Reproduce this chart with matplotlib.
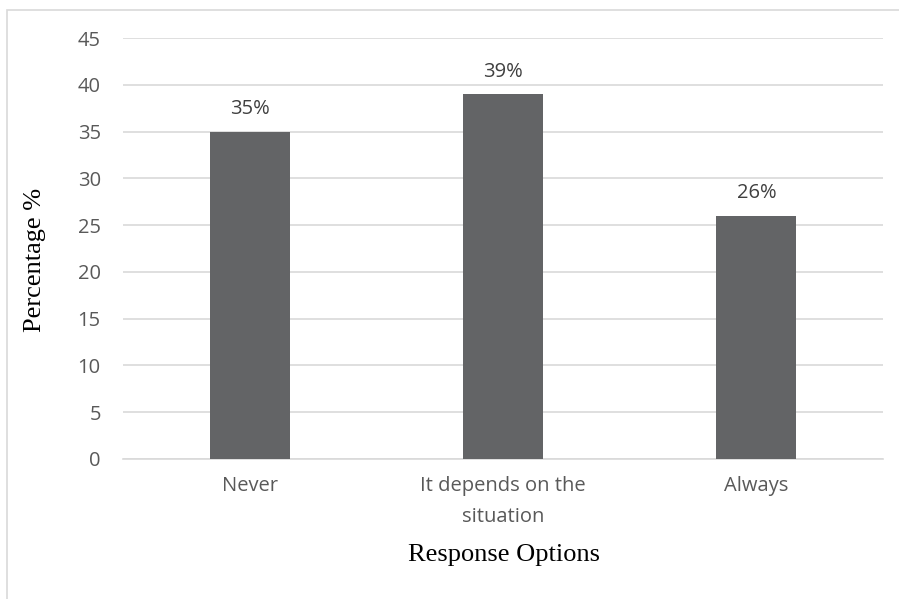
import matplotlib.pyplot as plt
from matplotlib.patches import Rectangle

# data
categories = ['Never', 'It depends on the\nsituation', 'Always']
values = [35, 39, 26]
labels = ['35%', '39%', '26%']
yticks = [0, 5, 10, 15, 20, 25, 30, 35, 40, 45]

fig = plt.figure(figsize=(8.99, 5.99), dpi=100)
ax = fig.add_axes([123/899, 1 - 459/599, 760/899, 421/599])

# chart area border (Excel style, only partly in frame)
fig.patches.append(Rectangle((7/899, -0.1), 1.2, 1 - 10/599 + 0.1,
                             transform=fig.transFigure, fill=False,
                             edgecolor='#d9d9d9', linewidth=1.2))

x = range(len(categories))
bars = ax.bar(x, values, width=0.316, color='#636466', zorder=3)

for b, lab in zip(bars, labels):
    ax.annotate(lab, (b.get_x() + b.get_width()/2, b.get_height()),
                xytext=(0, 9), textcoords='offset points',
                ha='center', va='bottom', fontsize=14.5,
                family='Open Sans', color='#404040')

ax.set_xlim(-0.5, 2.5)
ax.set_ylim(0, 45)
ax.set_yticks(yticks)
ax.yaxis.grid(True, color='#d9d9d9', linewidth=1.2, zorder=0)
ax.set_axisbelow(True)
for s in ['top', 'right', 'left']:
    ax.spines[s].set_visible(False)
ax.spines['bottom'].set_color('#d9d9d9')
ax.spines['bottom'].set_linewidth(1.2)

ax.set_xticks(list(x))
ax.set_xticklabels(categories, family='Open Sans', fontsize=14.5, color='#595959',
                   linespacing=1.75)
for t in ax.get_yticklabels():
    t.set_family('Open Sans')
    t.set_fontsize(14.5)
    t.set_color('#595959')
ax.tick_params(axis='both', length=0)
ax.tick_params(axis='y', pad=16)
ax.tick_params(axis='x', pad=12)

ax.set_ylabel('Percentage %', family='Liberation Serif', fontsize=19,
              va='center', ha='center')
ax.set_xlabel('Response Options', family='Liberation Serif', fontsize=19,
              va='center', ha='center')
ax.yaxis.set_label_coords(-0.1158, 0.4727)
ax.xaxis.set_label_coords(0.501, -0.228)

fig.savefig('out.png', dpi=100)
